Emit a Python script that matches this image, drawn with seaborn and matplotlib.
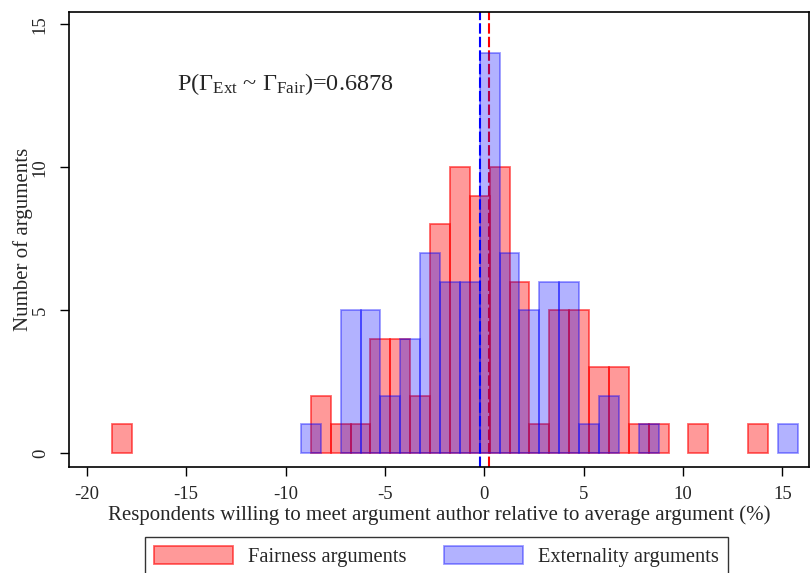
import matplotlib
matplotlib.use("Agg")
import numpy as np
import pandas as pd
import matplotlib.pyplot as plt
import seaborn as sns
from matplotlib.patches import Patch

# histogram counts (bin width ~1 point)
fair_counts = [1, 0, 0, 0, 0, 0, 0, 0, 0, 0, 2, 1, 1, 4, 4, 2, 8, 10, 9, 10,
               6, 1, 5, 5, 3, 3, 1, 1, 0, 1, 0, 0, 1]
ext_counts = [1, 0, 5, 5, 2, 4, 7, 6, 6, 14, 7, 5, 6, 6, 1, 2, 0, 1, 0, 0,
              0, 0, 0, 0, 1]
fair_start = -18.73
ext_start = -9.23
bin_width = 1.0

fair_mean = 0.25
ext_mean = -0.22

x_ticks = [-20, -15, -10, -5, 0, 5, 10, 15]
y_ticks = [0, 5, 10, 15]

sns.set_style("white")
plt.rcParams["font.family"] = ["Liberation Serif", "DejaVu Serif"]
plt.rcParams["mathtext.fontset"] = "custom"
plt.rcParams["mathtext.rm"] = "Liberation Serif"
plt.rcParams["mathtext.it"] = "Liberation Serif:italic"
plt.rcParams["axes.unicode_minus"] = False

red_face = (1, 0, 0, 0.4)
red_edge = (1, 0, 0, 0.6)
blue_face = (0, 0, 1, 0.3)
blue_edge = (0, 0, 1, 0.4)

fig = plt.figure(figsize=(8.1, 5.73), dpi=100)
ax = fig.add_axes([69 / 810, (573 - 467) / 573, (809 - 69) / 810, (467 - 12) / 573])


def draw_hist(counts, start, face, edge, z):
    edges = start + bin_width * np.arange(len(counts) + 1)
    df = pd.DataFrame({"x": (edges[:-1] + edges[1:]) / 2, "w": counts})
    n0 = len(ax.patches)
    sns.histplot(data=df, x="x", weights="w", bins=list(edges), ax=ax,
                 element="bars", fill=True, color=face[:3])
    for p in ax.patches[n0:]:
        p.set_facecolor(face)
        p.set_edgecolor(edge)
        p.set_linewidth(1.3)
        p.set_zorder(z)
        if p.get_height() == 0:
            p.set_visible(False)


draw_hist(fair_counts, fair_start, red_face, red_edge, 1)
ax.axvline(fair_mean, color=(1, 0, 0), lw=1.5, dashes=(5, 1.5), zorder=1.5)
ax.axvline(ext_mean, color=(0, 0, 1), lw=1.5, dashes=(5, 1.5), zorder=1.5)
draw_hist(ext_counts, ext_start, blue_face, blue_edge, 2)

ax.set_xlim(-20.9, 16.34)
ax.set_ylim(-0.49, 15.43)
ax.set_xticks(x_ticks)
ax.set_yticks(y_ticks)
ax.set_xticklabels([str(t) for t in x_ticks], fontsize=13.5)
ax.set_yticklabels([str(t) for t in y_ticks], fontsize=13.5, rotation=90, va="center")
ax.tick_params(axis="both", direction="out", length=6.5, width=1, color="black",
               left=True, bottom=True)
ax.tick_params(axis="x", pad=7)
ax.tick_params(axis="y", pad=8)
for s in ax.spines.values():
    s.set_visible(True)
    s.set_color("black")
    s.set_linewidth(1.2)

ax.set_xlabel("Respondents willing to meet argument author relative to average argument (%)",
              fontsize=15, labelpad=2)
ax.set_ylabel("Number of arguments", fontsize=15, labelpad=-1)

ax.text(-15.47, 12.70, r"P($\Gamma_{\rm Ext}$ ~ $\Gamma_{\rm Fair}$)=0.6878",
        fontsize=17.5, ha="left", va="baseline")

handles = [Patch(facecolor=red_face, edgecolor=red_edge, lw=1.3, label="Fairness arguments"),
           Patch(facecolor=blue_face, edgecolor=blue_edge, lw=1.3, label="Externality arguments")]
leg = fig.legend(handles=handles, loc="upper left", bbox_to_anchor=(145 / 810, 1 - 536.5 / 573),
                 ncol=2, frameon=True, fancybox=False, edgecolor="black", fontsize=14.8,
                 handlelength=3.85, handleheight=0.97, handletextpad=0.7, columnspacing=1.85,
                 borderpad=0.45, borderaxespad=0)
leg.get_frame().set_linewidth(1)

fig.savefig("out.png", dpi=100)
